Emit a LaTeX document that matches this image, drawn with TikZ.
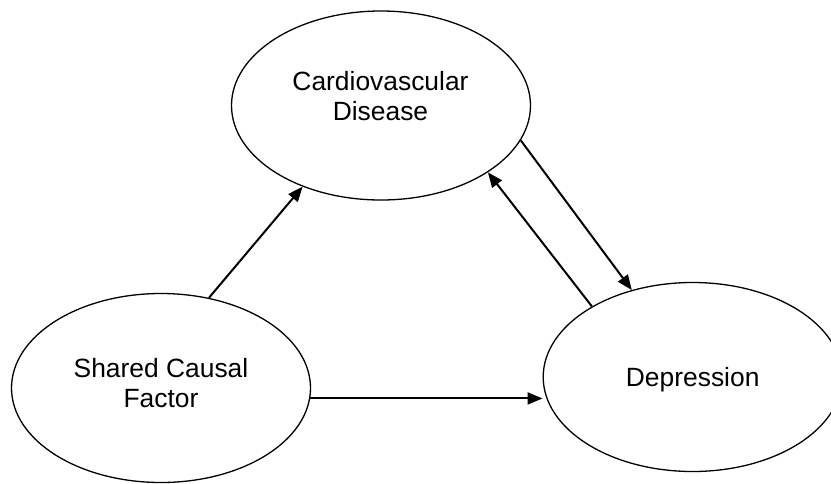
\documentclass[tikz,border=0pt]{standalone}
\usepackage{fontspec}
\setmainfont{Liberation Sans}
\usetikzlibrary{arrows.meta,calc,shapes.geometric}
\begin{document}
\begin{tikzpicture}[x=1pt,y=-1pt,
  oval/.style={ellipse,draw=black,line width=1.3pt,minimum width=299pt,minimum height=189pt,inner sep=0pt},
  txt/.style={align=center,inner sep=0pt,font=\fontsize{26.4}{30.5}\selectfont},
  arr/.style={line width=2pt,-{Triangle[length=15pt,width=12pt]}}]
\useasboundingbox (0,0) rectangle (831,483);
\clip (0,0) rectangle (831,483);
\node[oval] (cardio) at (381,105.5) {};
\node[oval] (shared) at (161,388) {};
\node[oval] (dep) at (692.7,377) {};
\node[txt] (cardiotxt) at ($(cardio.center)+(-0.5,-9.5)$) {Cardiovascular\\Disease};
\node[txt] (sharedtxt) at ($(shared.center)+(0,-5)$) {Shared Causal\\Factor};
\node[txt] (deptxt) at ($(dep.center)+(0,3)$) {Depression};
\draw[arr] (shared.62.4) -- (cardio.-134.8);
\draw[arr] (shared.-4.2) -- (shared.-4.2 -| dep.west);
\draw[arr] (cardio.-14.9) -- (dep.125.9);
\draw[arr] (dep.145.2) -- (cardio.-32.6);
\end{tikzpicture}
\end{document}
